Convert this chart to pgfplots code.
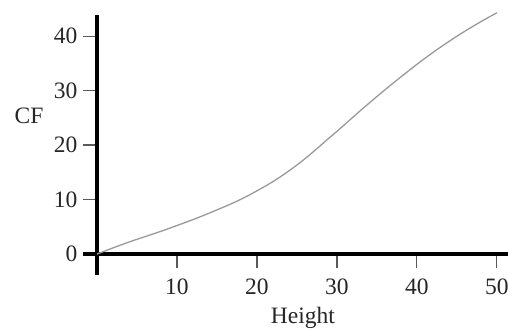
\documentclass[border=0pt]{standalone}
\usepackage{pgfplots}
\pgfplotsset{compat=1.18}
\usepackage{fontspec}
\setmainfont{Liberation Serif}
\begin{document}
\begin{tikzpicture}
\begin{axis}[
  at={(0,0)}, anchor=south west,
  scale only axis,
  width=425bp, height=260bp,
  xmin=-1.75, xmax=51.4,
  ymin=-3.85, ymax=43.9,
  axis lines=middle,
  axis line style={-, line width=3.5bp, black},
  xtick={10,20,30,40,50},
  ytick={0,10,20,30,40},
  hide obscured y ticks=false,
  tick align=outside,
  major tick length=14bp,
  tick style={line width=1.3bp, black!65},
  /pgf/number format/assume math mode=true,
  tick label style={font=\fontsize{23.5bp}{28bp}\selectfont, text=black!85},
  xticklabel style={anchor=north, yshift=-7bp},
  yticklabel style={anchor=east, xshift=-2bp},
  xlabel={Height},
  ylabel={CF},
  every axis x label/.style={at={(axis cs:25.75,-12.8)}, anchor=base, font=\fontsize{23.5bp}{28bp}\selectfont, text=black!85},
  every axis y label/.style={at={(axis cs:-8.5,25.4)}, anchor=center, font=\fontsize{23.5bp}{28bp}\selectfont, text=black!85},
  clip=false,
]
\addplot[smooth, tension=0.7, line width=1.3bp, black!40] coordinates {
(0,0) (4,2.2) (9,4.7) (14.5,7.8) (19.5,11.2) (24.5,15.8) (29.5,21.9)
(33.7,27.3) (37.9,32.4) (42,37.0) (46.2,41.1) (50,44.3)
};
\end{axis}
\pgfresetboundingbox
\path (-83bp,-56bp) rectangle (425bp,275bp);
\end{tikzpicture}
\end{document}
